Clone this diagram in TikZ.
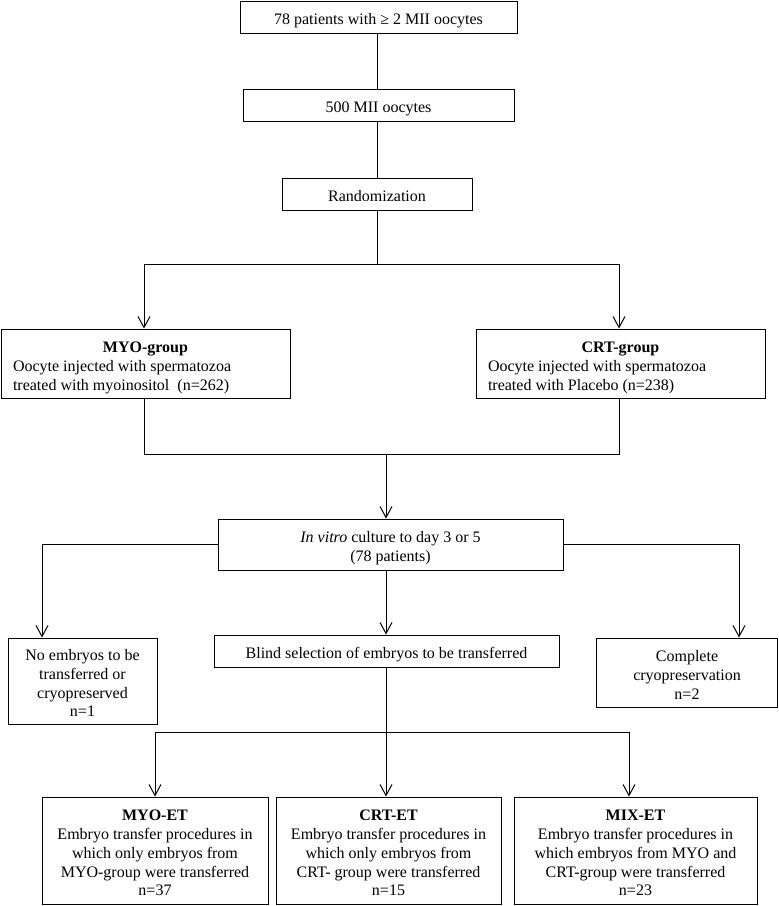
\documentclass[tikz,border=0pt]{standalone}
\usepackage{fontspec}
\setmainfont{Liberation Serif}
\usetikzlibrary{arrows.meta}
\newcommand{\cbox}[1]{\raisebox{-4pt}[\height][\depth]{\begin{tabular}{@{}c@{}}#1\end{tabular}}}
\newcommand{\lbox}[1]{\raisebox{-4pt}[\height][\depth]{\begin{tabular}{@{}l@{}}#1\end{tabular}}}
\begin{document}
\begin{tikzpicture}[x=1pt,y=-1pt,
  box/.style={draw, line width=1pt, inner sep=0pt,
    font=\fontsize{16}{18.75}\selectfont},
  conn/.style={line width=1pt},
  arr/.style={line width=1pt, -{Straight Barb[length=11pt,width=12pt,line width=1pt]}}]
\useasboundingbox (0,0) rectangle (779,906);

\node[box, minimum width=277pt, minimum height=32pt] (n1) at (378.5,17) {\cbox{78 patients with ≥ 2 MII oocytes}};
\node[box, minimum width=271pt, minimum height=32pt] (n2) at (378.5,105) {\cbox{500 MII oocytes}};
\node[box, minimum width=190pt, minimum height=32pt] (n3) at (377,194) {\cbox{Randomization}};

\node[box, minimum width=289pt, minimum height=69pt] (myo) at (145.5,363.5)
  {\lbox{\makebox[265pt]{\textbf{MYO-group}}\\Oocyte injected with spermatozoa\\treated with myoinositol~~(n=262)}};
\node[box, minimum width=289pt, minimum height=69pt] (crt) at (620.5,363.5)
  {\lbox{\makebox[265pt]{\textbf{CRT-group}}\\Oocyte injected with spermatozoa\\treated with Placebo (n=238)}};

\node[box, minimum width=345pt, minimum height=51pt] (vitro) at (390.5,544.5)
  {\cbox{\textit{In vitro} culture to day 3 or 5\\(78 patients)}};

\node[box, minimum width=149pt, minimum height=86pt] (noemb) at (82.5,681)
  {\cbox{No embryos to be\\transferred or\\cryopreserved\\n=1}};
\node[box, minimum width=345pt, minimum height=32pt] (blind) at (386.5,651)
  {\cbox{Blind selection of embryos to be transferred}};
\node[box, minimum width=181pt, minimum height=69pt] (comp) at (687,672.5)
  {\cbox{Complete\\cryopreservation\\n=2}};

\node[box, minimum width=226pt, minimum height=107pt] (myoet) at (155,850.5)
  {\cbox{\textbf{MYO-ET}\\Embryo transfer procedures in\\which only embryos from\\MYO-group were transferred\\n=37}};
\node[box, minimum width=225pt, minimum height=107pt] (crtet) at (388.5,850.5)
  {\cbox{\textbf{CRT-ET}\\Embryo transfer procedures in\\which only embryos from\\CRT- group were transferred\\n=15}};
\node[box, minimum width=243pt, minimum height=107pt] (mixet) at (635.5,850.5)
  {\cbox{\textbf{MIX-ET}\\Embryo transfer procedures in\\which embryos from MYO and\\CRT-group were transferred\\n=23}};

\coordinate (j1) at (377,264);
\coordinate (j2) at (386,454);
\coordinate (j3) at (386,732);

\draw[conn] (377,0 |- n1.south) -- (377,0 |- n2.north);
\draw[conn] (377,0 |- n2.south) -- (377,0 |- n3.north);
\draw[conn] (n3) -- (j1);
\draw[arr] (j1) -| (144,0 |- myo.north);
\draw[arr] (j1) -| (619,0 |- crt.north);
\draw[conn] (144,0 |- myo.south) |- (j2);
\draw[conn] (619,0 |- crt.south) |- (j2);
\draw[arr] (j2) -- (j2 |- vitro.north);
\draw[arr] (vitro.west) -| (42,0 |- noemb.north);
\draw[arr] (vitro.east) -| (739,0 |- comp.north);
\draw[arr] (386,0 |- vitro.south) -- (386,0 |- blind.north);
\draw[conn] (386,0 |- blind.south) -- (j3);
\draw[arr] (j3) -| (myoet.north);
\draw[arr] (j3) -- (j3 |- crtet.north);
\draw[arr] (j3) -| (629,0 |- mixet.north);
\end{tikzpicture}
\end{document}
